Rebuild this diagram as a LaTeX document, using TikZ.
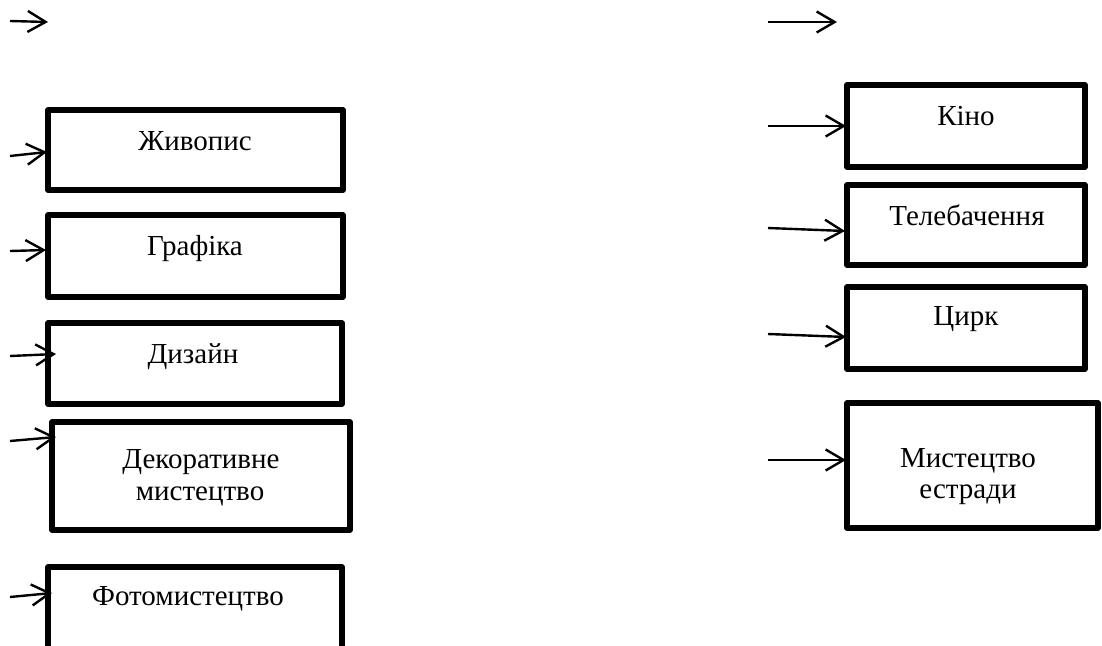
\documentclass[tikz,border=0pt]{standalone}
\usepackage{fontspec}
\setmainfont{Liberation Serif}
\usetikzlibrary{arrows.meta}
\begin{document}
\begin{tikzpicture}[x=1pt,y=-1pt,
  box/.style={draw, line width=5.5pt, line join=round, inner sep=0pt, minimum width=#1},
  box/.default={295pt},
  lbl/.style={anchor=base, inner sep=0pt, font=\fontsize{29}{33}\selectfont},
  arr/.style={line width=2.4pt, -{Straight Barb[length=18pt,width=21pt,line width=2.4pt]}}]
\useasboundingbox (0,0) rectangle (1102,645);
\clip (0,0) rectangle (1102,645);
% left column boxes
\node[box, minimum height=80pt] (b1) at (195.5,150) {};
\node[box, minimum height=82pt] (b2) at (195.5,256) {};
\node[box=294pt, minimum height=81pt] (b3) at (195,363.5) {};
\node[box=298pt, minimum height=108pt] (b4) at (201,476) {};
\node[box=294pt, minimum height=146pt] (b5) at (195,640) {};
% right column boxes
\node[box=238pt, minimum height=82pt] (r1) at (966,126) {};
\node[box=238pt, minimum height=80pt] (r2) at (966,225) {};
\node[box=238pt, minimum height=82pt] (r3) at (966,328) {};
\node[box=251pt, minimum height=125pt] (r4) at (972.5,465.5) {};
% labels
\node[lbl] (t1) at (195,150) {Живопис};
\node[lbl] (t2) at (195,255) {Графіка};
\node[lbl] (t3) at (193,363) {Дизайн};
\node[lbl] (t4a) at (201,468) {Декоративне};
\node[lbl] (t4b) at (200,500) {мистецтво};
\node[lbl] (t5) at (188,605) {Фотомистецтво};
\node[lbl] (u1) at (966,125) {Кіно};
\node[lbl] (u2) at (967,225) {Телебачення};
\node[lbl] (u3) at (966,325) {Цирк};
\node[lbl] (u4a) at (968,467) {Мистецтво};
\node[lbl] (u4b) at (968,498) {естради};
% arrow coordinates
\coordinate (s0) at (10,21);   \coordinate (e0) at (48,22);
\coordinate (s9) at (768,22);  \coordinate (e9) at (837,22);
\coordinate (s1) at (10,156);  \coordinate (e1) at (47,152);
\coordinate (s2) at (10,251);  \coordinate (e2) at (46,250);
\coordinate (s3) at (10,356);  \coordinate (e3) at (56,354);
\coordinate (s4) at (10,441);  \coordinate (e4) at (56,437);
\coordinate (s5) at (10,597);  \coordinate (e5) at (52,593);
\coordinate (p1) at (768,126); \coordinate (q1) at (846,126);
\coordinate (p2) at (768,228); \coordinate (q2) at (845,231);
\coordinate (p3) at (768,334); \coordinate (q3) at (846,337);
\coordinate (p4) at (768,460); \coordinate (q4) at (846,460);
% arrows
\draw[arr] (s0) -- (e0);
\draw[arr] (s9) -- (e9);
\draw[arr] (s1) -- (e1);
\draw[arr] (s2) -- (e2);
\draw[arr] (s3) -- (e3);
\draw[arr] (s4) -- (e4);
\draw[arr] (s5) -- (e5);
\draw[arr] (p1) -- (q1);
\draw[arr] (p2) -- (q2);
\draw[arr] (p3) -- (q3);
\draw[arr] (p4) -- (q4);
\end{tikzpicture}
\end{document}
